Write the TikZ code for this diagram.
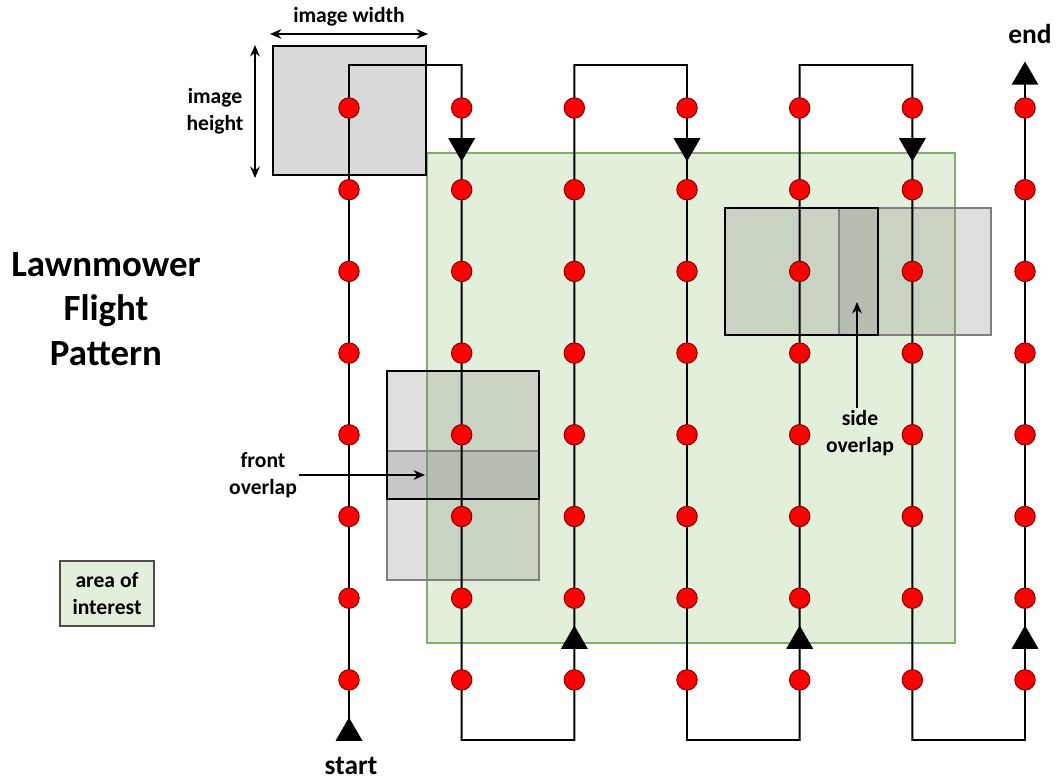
\documentclass[tikz,border=0pt]{standalone}
\usepackage{fontspec}
\setmainfont{Carlito}
\usetikzlibrary{shapes.geometric,arrows.meta}

\definecolor{aoifill}{HTML}{E2EFDA}
\definecolor{aoiline}{HTML}{86AB6E}
\definecolor{boxgray}{HTML}{D9D9D9}

\tikzset{
  waypoint/.style={circle,fill=red,draw=red!45!black,line width=0.5pt,minimum size=0.41cm,inner sep=0pt},
  heading/.style={regular polygon,regular polygon sides=3,fill=black,minimum size=0.62cm,inner sep=0pt},
  flight/.style={line width=1.1pt},
  footprint/.style={fill=gray,fill opacity=0.25,line width=1.1pt},
  dimarrow/.style={line width=1.1pt,{Stealth[length=6.5pt,width=5.5pt]}-{Stealth[length=6.5pt,width=5.5pt]}},
  callout/.style={line width=1.1pt,-{Stealth[length=6.5pt,width=5.5pt]}},
  lbl/.style={font=\bfseries\fontsize{12.3}{15.5}\selectfont,align=center,inner sep=1pt},
  biglbl/.style={font=\bfseries\fontsize{15.6}{18}\selectfont,inner sep=0pt}
}

\begin{document}
\begin{tikzpicture}[x=0.02cm,y=-0.02cm]
  \useasboundingbox (0,0) rectangle (1058,780);

  % Area of interest
  \draw[fill=aoifill,draw=aoiline,line width=0.7pt] (427,153) rectangle (955,643);

  % Single image footprint with its size
  \draw[fill=boxgray,line width=1.1pt] (273,46) rectangle (426,175);
  \draw[dimarrow] (270,34) -- (428,34);
  \draw[dimarrow] (255,45) -- (255,178);
  \node[lbl] (imgw) at (349,17) {image width};
  \node[lbl] (imgh) at (215,111) {image\\height};

  % Overlapping footprints (front and side)
  \draw[footprint,draw=gray] (387,451) rectangle (539,580);
  \draw[footprint,draw=black] (387,371) rectangle (539,499);
  \draw[footprint,draw=gray] (839,208) rectangle (991,335);
  \draw[footprint,draw=black] (725,208) rectangle (878,335);

  % Turn points of the flight lines
  \foreach \i in {1,...,7} {
    \coordinate (top\i) at ({349+(\i-1)*112.67},65);
    \coordinate (bot\i) at ({349+(\i-1)*112.67},740);
  }
  \coordinate (start) at (349,733);
  \coordinate (end) at (1025,77);

  % Flight path
  \draw[flight] (start) -- (top1) -- (top2) -- (bot2) -- (bot3) -- (top3) -- (top4)
    -- (bot4) -- (bot5) -- (top5) -- (top6) -- (bot6) -- (bot7) -- (end);

  % Waypoints
  \foreach \i in {1,...,7}
    \foreach \j in {1,...,8}
      \node[waypoint] (w\i-\j) at ({349+(\i-1)*112.67},{108+(\j-1)*81.7}) {};

  % Direction markers
  \node[heading] (hs) at (start) {};
  \node[heading] (he) at (end) {};
  \foreach \i in {2,4,6}
    \node[heading,shape border rotate=180] (hd\i) at ({349+(\i-1)*112.67},146) {};
  \foreach \i in {3,5,7}
    \node[heading] (hu\i) at ({349+(\i-1)*112.67},641) {};

  % Labels
  \node[biglbl] (startlbl) at (351,766) {start};
  \node[biglbl] (endlbl) at (1030,34) {end};
  \node[font=\bfseries\fontsize{21}{25.5}\selectfont,align=center] (title) at (106,309)
    {Lawnmower\\Flight\\Pattern};

  % Overlap callouts
  \node[lbl,anchor=east] (front) at (299,475) {front\\overlap};
  \coordinate (fronttip) at (425,475);
  \draw[callout] (front.east) -- (fronttip);
  \node[lbl,anchor=north] (side) at (860,408) {side\\overlap};
  \coordinate (sidetip) at (857,302);
  \draw[callout] (side.north -| sidetip) -- (sidetip);

  % Legend
  \node[lbl,draw=black!70,line width=0.6pt,fill=aoifill,minimum width=1.88cm,minimum height=1.3cm]
    (legend) at (107,593.5) {area of\\interest};

\end{tikzpicture}
\end{document}
